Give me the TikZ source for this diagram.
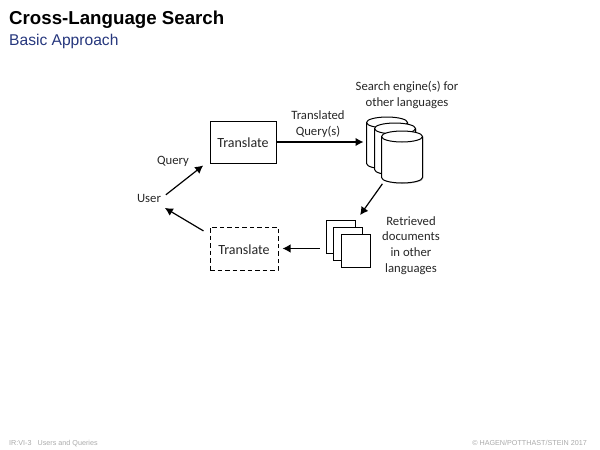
\documentclass[tikz,border=0pt]{standalone}
\usepackage{fontspec}
\setmainfont{Carlito}
\newfontfamily\helv{Liberation Sans}
\usetikzlibrary{arrows.meta,shadows}
\definecolor{subtitleblue}{RGB}{38,55,125}
\definecolor{footgray}{RGB}{170,170,170}
\tikzset{
  flow/.style={-{Latex[length=8pt,width=8.5pt]},line width=1.2pt},
  lbl/.style={font=\fontsize{12.7}{15.7}\selectfont,align=center,text=black!85,inner sep=0pt},
  boxtext/.style={font=\fontsize{14}{16}\selectfont,text=black!85,inner sep=0pt,text height=11pt,text depth=0pt},
  softshadow/.style={drop shadow={shadow xshift=0.8pt,shadow yshift=-0.8pt,fill=black,opacity=0.25}},
  engine/.pic={
    \draw[fill=white,line width=1pt,softshadow] (-20.5,-20.5) arc[start angle=180,end angle=0,x radius=20.5pt,y radius=5.5pt]
      -- (20.5,20.5) arc[start angle=0,end angle=-180,x radius=20.5pt,y radius=5.5pt] -- cycle;
    \draw[line width=1pt] (-20.5,-20.5) arc[start angle=180,end angle=360,x radius=20.5pt,y radius=5.5pt];
    \coordinate (-west) at (-20.5,0);
    \coordinate (-south) at (0,26);
  },
  page/.style={draw,fill=white,line width=1pt,minimum width=29pt,minimum height=33pt,inner sep=0pt,softshadow},
  foot/.style={font=\helv\fontsize{7.2}{8}\selectfont,text=footgray,inner sep=0pt}
}
\begin{document}
\begin{tikzpicture}[x=1pt,y=-1pt]
\useasboundingbox (0,0) rectangle (600,450);
% slide heading
\node[anchor=base west,inner sep=0pt,font=\helv\bfseries\fontsize{18.7}{20}\selectfont] (title) at (9,24) {Cross-Language Search};
\node[anchor=base west,inner sep=0pt,text=subtitleblue,font=\helv\fontsize{15.6}{18}\selectfont] (subtitle) at (9,45) {Basic Approach};
% boxes
\node[boxtext,draw=black,line width=1pt,fill=white,minimum width=66pt,minimum height=42pt,softshadow] (trans) at (243,142) {Translate};
\node[boxtext,draw=black,line width=1pt,dash pattern=on 4.5pt off 3pt,minimum width=68pt,minimum height=43pt] (back) at (244,248.5) {Translate};
\node[lbl] (user) at (149,198.5) {User};
% search engines
\pic (db1) at (387,143) {engine};
\pic (db2) at (395,149) {engine};
\pic (db3) at (402,157) {engine};
% documents
\node[page] (doc1) at (340.5,237) {};
\node[page] (doc2) at (348,243.5) {};
\node[page] (doc3) at (356,251) {};
% labels
\node[lbl] (query) at (173,161) {Query};
\node[lbl] (tq) at (318,124) {Translated\\Query(s)};
\node[lbl] (se) at (407,95) {Search engine(s) for\\other languages};
\node[lbl] (rd) at (411,245.5) {Retrieved\\documents\\in other\\languages};
% connectors
\draw[flow,shorten <=6pt,shorten >=8pt] (user.east) -- ([yshift=3pt]trans.south west);
\draw[flow,shorten >=3pt] (trans.east) -- (db1-west |- trans.east);
\draw[flow,shorten <=1pt,shorten >=14pt] ([xshift=-19pt]db3-south) -- ([xshift=4pt]doc2.north);
\draw[flow,shorten <=6pt,shorten >=4pt] (doc1.west |- back.east) -- (back.east);
\draw[flow,shorten <=7pt,shorten >=10pt] ([yshift=-8pt]back.north west) -- (user);
% footer
\node[foot,anchor=base west] (footl) at (9,445.5) {IR:VI-3\hspace{6pt}Users and Queries};
\node[foot,anchor=base east] (footr) at (587,445.5) {\textcopyright\ HAGEN/POTTHAST/STEIN 2017};
\end{tikzpicture}
\end{document}
